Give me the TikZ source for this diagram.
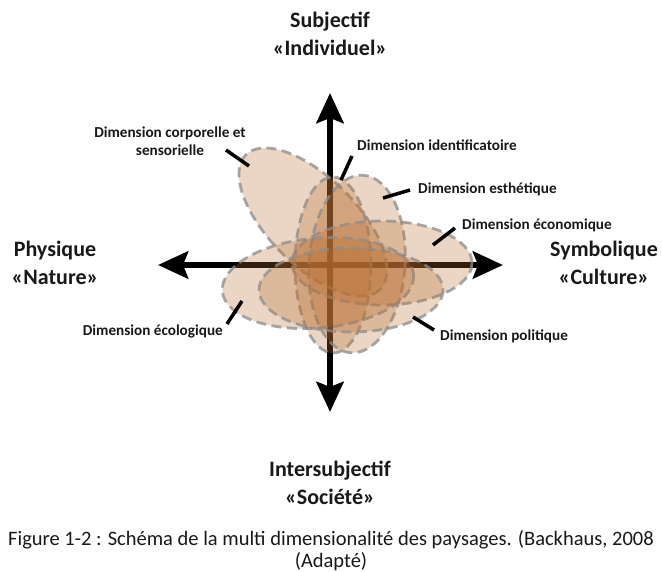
\documentclass[tikz,border=0pt]{standalone}
\usepackage{fontspec}
\setmainfont{Carlito}
\usetikzlibrary{arrows.meta}
\definecolor{dimfill}{RGB}{185,110,50}
\definecolor{dimdash}{RGB}{140,140,140}
\definecolor{txt}{RGB}{25,25,25}
\tikzset{
  dimell/.style={fill=dimfill, fill opacity=0.28, draw=dimdash, draw opacity=0.75,
    line width=2.8pt, dash pattern=on 10pt off 5.5pt},
  axisline/.style={line width=6.5pt, black, {Stealth[length=30pt,width=27pt,inset=5pt]}-{Stealth[length=30pt,width=27pt,inset=5pt]}},
  leader/.style={line width=3.5pt, black},
  dimlabel/.style={font=\bfseries\fontsize{15.2}{18}\selectfont, text=txt, inner sep=0pt},
  axlabel/.style={font=\bfseries\fontsize{22}{28}\selectfont, text=txt, align=center, inner sep=0pt},
  caplabel/.style={font=\fontsize{20.5}{22}\selectfont, text=txt, align=center, inner sep=0pt}
}
\begin{document}
\begin{tikzpicture}[x=1pt,y=-1pt]
\useasboundingbox (0,0) rectangle (662,572);
\fill[white] (0,0) rectangle (662,572);

% axes
\coordinate (axT) at (330,93);
\coordinate (axB) at (330,412);
\coordinate (axL) at (158,265);
\coordinate (axR) at (503,265);
\draw[axisline] (axB) -- (axT);
\draw[axisline] (axL) -- (axR);

% ellipses
\draw[dimell, rotate around={-45:(313,222)}] (313,222) ellipse [x radius=95, y radius=44];
\draw[dimell] (333,265) ellipse [x radius=38, y radius=88];
\draw[dimell, rotate around={-4:(357,264)}] (357,264) ellipse [x radius=48, y radius=89];
\draw[dimell] (382,263) ellipse [x radius=90, y radius=42];
\draw[dimell, rotate around={5:(318,283)}] (318,283) ellipse [x radius=96, y radius=45];
\draw[dimell] (351,290) ellipse [x radius=92, y radius=42];

% leader lines
\coordinate (lc1) at (226,150); \coordinate (lc2) at (249,166);
\coordinate (li1) at (352,156); \coordinate (li2) at (341,180);
\coordinate (le1) at (410,190); \coordinate (le2) at (383,198);
\coordinate (lo1) at (455,228); \coordinate (lo2) at (433,245);
\coordinate (lg1) at (242,301); \coordinate (lg2) at (227,324);
\coordinate (lp1) at (413,317); \coordinate (lp2) at (434,330);
\draw[leader] (lc1) -- (lc2);
\draw[leader] (li1) -- (li2);
\draw[leader] (le1) -- (le2);
\draw[leader] (lo1) -- (lo2);
\draw[leader] (lg1) -- (lg2);
\draw[leader] (lp1) -- (lp2);

% dimension labels
\node[dimlabel, align=center] (corp) at (170,141) {Dimension corporelle et\\sensorielle};
\node[dimlabel, anchor=west] (ident) at (357,145) {Dimension identificatoire};
\node[dimlabel, anchor=west] (esth) at (418,189) {Dimension esthétique};
\node[dimlabel, anchor=west] (econ) at (462,225) {Dimension économique};
\node[dimlabel, anchor=east] (ecol) at (223,331) {Dimension écologique};
\node[dimlabel, anchor=west] (poli) at (440,336) {Dimension politique};

% axis labels
\node[axlabel] (top) at (330,34) {Subjectif\\«Individuel»};
\node[axlabel] (left) at (55,263) {Physique\\«Nature»};
\node[axlabel] (right) at (604,263) {Symbolique\\«Culture»};
\node[axlabel] (bottom) at (330,483) {Intersubjectif\\«Société»};

% caption
\node[caplabel] (cap) at (331,551) {Figure 1-2 : Schéma de la multi dimensionalité des paysages. (Backhaus, 2008\\(Adapté)};
\end{tikzpicture}
\end{document}
